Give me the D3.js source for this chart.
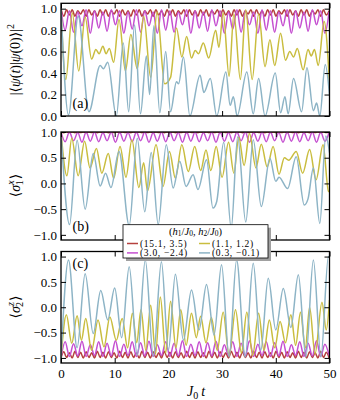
<!DOCTYPE html>
<html>
<head>
<meta charset="utf-8">
<script src="https://cdn.jsdelivr.net/npm/d3@7"></script>
<style>
  body { margin: 0; background: #fff; }
  svg { display: block; }
  text { font-family: "Liberation Serif", "DejaVu Serif", serif; fill: #000; }
</style>
</head>
<body>
<svg id="chart"></svg>
<script>
// values
const xTicks = [0, 10, 20, 30, 40, 50];
const yTicksA = [0, 0.2, 0.4, 0.6, 0.8, 1.0];
const yTicksBC = [-1.0, -0.5, 0.0, 0.5, 1.0];
const legendLabels = ['(15.1, 3.5)', '(3.0, \u22122.4)', '(1.1, 1.2)', '(0.3, \u22120.1)'];

// the two fast curves are sampled at a fixed time step (one value per half period)
const redStep = 0.52;
const magentaStep = 0.78;

const redA = [
  1.0, 0.93, 0.99, 0.94, 0.99, 0.93, 0.98, 0.95, 0.99, 0.93,
  0.99, 0.94, 0.98, 0.93, 0.99, 0.94, 0.99, 0.93, 0.98, 0.95,
  0.99, 0.93, 0.99, 0.94, 0.98, 0.93, 0.99, 0.94, 0.99, 0.93,
  0.98, 0.95, 0.99, 0.93, 0.99, 0.94, 0.98, 0.93, 0.99, 0.94,
  0.99, 0.93, 0.98, 0.95, 0.99, 0.93, 0.99, 0.94, 0.98, 0.93,
  0.99, 0.94, 0.99, 0.93, 0.98, 0.95, 0.99, 0.93, 0.99, 0.94,
  0.98, 0.93, 0.99, 0.94, 0.99, 0.93, 0.98, 0.95, 0.99, 0.93,
  0.99, 0.94, 0.98, 0.93, 0.99, 0.94, 0.99, 0.93, 0.98, 0.95,
  0.99, 0.93, 0.99, 0.94, 0.98, 0.93, 0.99, 0.94, 0.99, 0.93,
  0.98, 0.95, 0.99, 0.93, 0.99, 0.94, 0.98
];
const magentaA = [
  1.0, 0.80, 0.98, 0.78, 0.97, 0.84, 0.99, 0.77, 0.98, 0.82,
  0.97, 0.79, 0.99, 0.85, 0.98, 0.77, 0.97, 0.81, 0.99, 0.78,
  0.98, 0.84, 0.97, 0.77, 0.99, 0.80, 0.98, 0.78, 0.97, 0.85,
  0.99, 0.77, 0.98, 0.82, 0.97, 0.79, 0.99, 0.84, 0.98, 0.77,
  0.97, 0.81, 0.99, 0.78, 0.98, 0.85, 0.97, 0.77, 0.99, 0.80,
  0.98, 0.78, 0.97, 0.84, 0.99, 0.77, 0.98, 0.82, 0.97, 0.79,
  0.99, 0.85, 0.98, 0.77, 0.97
];
const yellowA = [
  [0, 1.0], [0.9, 0.34], [2.1, 0.96], [3.3, 0.42], [4.5, 0.92], [5.7, 0.53],
  [6.5, 0.62], [7.1, 0.58], [7.8, 0.65], [8.4, 0.58], [9.0, 0.63], [9.8, 0.5],
  [10.8, 0.9], [12.0, 0.42], [13.0, 0.76], [14.2, 0.44], [15.4, 0.93], [16.7, 0.36],
  [17.9, 0.97], [19.3, 0.3], [20.4, 0.36], [21.5, 0.82], [22.5, 0.55], [23.4, 0.74],
  [24.3, 0.54], [25.0, 0.61], [25.6, 0.58], [26.5, 0.68], [27.5, 0.54], [28.8, 0.8],
  [29.4, 0.64], [30.2, 0.96], [31.3, 0.37], [32.2, 0.95], [33.4, 0.34], [34.4, 0.99],
  [35.6, 0.34], [36.8, 0.95], [38.0, 0.46], [38.9, 0.71], [39.8, 0.47], [40.9, 0.77],
  [41.8, 0.52], [42.6, 0.6], [43.3, 0.55], [44.0, 0.63], [45.1, 0.43], [46.0, 0.62],
  [46.6, 0.56], [47.2, 0.62], [47.9, 0.47], [49.0, 0.88], [50, 0.3]
];
const blueA = [
  [0, 1.0], [1.4, 0.01], [3.2, 0.93], [5.2, 0.04], [7.3, 0.47], [7.9, 0.44],
  [8.7, 0.5], [10.3, 0.0], [11.6, 0.68], [12.6, 0.04], [13.7, 0.85], [14.8, 0.02],
  [15.9, 0.56], [16.5, 0.2], [17.3, 0.84], [18.4, 0.03], [19.5, 0.6], [20.4, 0.04],
  [21.5, 0.32], [21.9, 0.3], [22.8, 0.55], [24.0, 0.0], [25.9, 0.38], [26.6, 0.22],
  [27.8, 0.35], [29.0, 0.0], [30.7, 0.41], [31.5, 0.1], [32.1, 0.18], [32.8, 0.0],
  [34.6, 0.41], [35.8, 0.02], [36.8, 0.35], [38.0, 0.0], [39.9, 0.4], [40.9, 0.03],
  [41.7, 0.18], [42.3, 0.02], [43.3, 0.35], [44.8, 0.04], [45.8, 0.45], [47.0, 0.05],
  [47.6, 0.12], [48.2, 0.0], [49.2, 0.48], [50, 0.2]
];

const redB = [
  1.0, 0.986, 1.0, 0.988, 1.0, 0.986, 1.0, 0.988, 1.0, 0.986,
  1.0, 0.988, 1.0, 0.986, 1.0, 0.988, 1.0, 0.986, 1.0, 0.988,
  1.0, 0.986, 1.0, 0.988, 1.0, 0.986, 1.0, 0.988, 1.0, 0.986,
  1.0, 0.988, 1.0, 0.986, 1.0, 0.988, 1.0, 0.986, 1.0, 0.988,
  1.0, 0.986, 1.0, 0.988, 1.0, 0.986, 1.0, 0.988, 1.0, 0.986,
  1.0, 0.988, 1.0, 0.986, 1.0, 0.988, 1.0, 0.986, 1.0, 0.988,
  1.0, 0.986, 1.0, 0.988, 1.0, 0.986, 1.0, 0.988, 1.0, 0.986,
  1.0, 0.988, 1.0, 0.986, 1.0, 0.988, 1.0, 0.986, 1.0, 0.988,
  1.0, 0.986, 1.0, 0.988, 1.0, 0.986, 1.0, 0.988, 1.0, 0.986,
  1.0, 0.988, 1.0, 0.986, 1.0, 0.988, 1.0
];
const magentaB = [
  1.0, 0.81, 1.0, 0.83, 0.99, 0.8, 1.0, 0.82, 1.0, 0.81,
  0.99, 0.83, 1.0, 0.8, 1.0, 0.82, 0.99, 0.81, 1.0, 0.83,
  1.0, 0.8, 0.99, 0.82, 1.0, 0.81, 1.0, 0.83, 0.99, 0.8,
  1.0, 0.82, 1.0, 0.81, 0.99, 0.83, 1.0, 0.8, 1.0, 0.82,
  0.99, 0.81, 1.0, 0.83, 1.0, 0.8, 0.99, 0.82, 1.0, 0.81,
  1.0, 0.83, 0.99, 0.8, 1.0, 0.82, 1.0, 0.81, 0.99, 0.83,
  1.0, 0.8, 1.0, 0.82, 0.99
];
const yellowB = [
  [0, 1.0], [1.1, 0.15], [2.0, 0.88], [3.2, 0.15], [4.4, 0.82], [5.4, 0.3],
  [6.6, 0.68], [7.6, 0.2], [8.8, 0.58], [9.8, 0.1], [11.0, 0.72], [12.1, 0.12],
  [13.2, 0.85], [14.5, -0.08], [15.4, 0.4], [16.1, -0.15], [17.7, 0.75], [19.0, -0.06],
  [20.2, 0.62], [21.3, 0.1], [22.5, 0.75], [23.7, 0.23], [24.9, 0.72], [26.0, 0.25],
  [27.0, 0.65], [27.9, 0.25], [28.9, 0.72], [30.0, 0.12], [31.2, 0.8], [32.2, 0.2],
  [33.1, 0.9], [34.1, 0.35], [35.1, 0.97], [36.3, 0.3], [37.3, 0.76], [38.4, 0.32],
  [39.5, 0.72], [40.6, 0.18], [41.6, 0.5], [42.4, 0.45], [43.8, 0.62], [45.0, 0.2],
  [46.3, 0.66], [47.5, 0.07], [48.8, 0.75], [49.8, -0.15], [50, -0.16]
];
const blueB = [
  [0, 1.0], [1.6, -0.8], [3.0, 0.84], [4.5, -0.5], [6.0, 0.58], [7.3, -0.05],
  [8.3, 0.2], [9.3, -0.08], [10.8, 0.62], [12.7, -0.82], [14.2, 0.88], [15.6, -0.55],
  [16.8, 0.6], [18.1, -0.8], [19.6, 0.75], [20.9, -0.09], [22.1, 0.43], [23.3, -0.06],
  [24.6, 0.17], [25.5, -0.12], [27.1, 0.46], [28.3, -0.48], [29.0, -0.35], [30.3, 0.8],
  [31.7, -0.87], [32.9, 0.91], [34.4, -0.75], [35.8, 0.85], [37.3, -0.45], [38.9, 0.49],
  [40.0, 0.04], [40.6, 0.12], [42.2, -0.1], [43.8, 0.52], [45.3, -0.42], [46.0, -0.3],
  [47.0, 0.3], [48.2, -0.78], [49.3, 0.92], [50, 0.6]
];

const redC = [
  -1.0, -0.88, -0.99, -0.9, -1.0, -0.87, -0.99, -0.89, -1.0, -0.88,
  -0.99, -0.9, -1.0, -0.87, -0.99, -0.89, -1.0, -0.88, -0.99, -0.9,
  -1.0, -0.87, -0.99, -0.89, -1.0, -0.88, -0.99, -0.9, -1.0, -0.87,
  -0.99, -0.89, -1.0, -0.88, -0.99, -0.9, -1.0, -0.87, -0.99, -0.89,
  -1.0, -0.88, -0.99, -0.9, -1.0, -0.87, -0.99, -0.89, -1.0, -0.88,
  -0.99, -0.9, -1.0, -0.87, -0.99, -0.89, -1.0, -0.88, -0.99, -0.9,
  -1.0, -0.87, -0.99, -0.89, -1.0, -0.88, -0.99, -0.9, -1.0, -0.87,
  -0.99, -0.89, -1.0, -0.88, -0.99, -0.9, -1.0, -0.87, -0.99, -0.89,
  -1.0, -0.88, -0.99, -0.9, -1.0, -0.87, -0.99, -0.89, -1.0, -0.88,
  -0.99, -0.9, -1.0, -0.87, -0.99, -0.89, -1.0
];
const magentaC = [
  -1.0, -0.68, -0.97, -0.72, -0.96, -0.67, -0.97, -0.74, -0.95, -0.68,
  -0.97, -0.71, -0.96, -0.66, -0.97, -0.73, -0.95, -0.68, -0.97, -0.7,
  -0.96, -0.67, -0.97, -0.74, -0.95, -0.68, -0.97, -0.71, -0.96, -0.66,
  -0.97, -0.73, -0.95, -0.68, -0.97, -0.7, -0.96, -0.67, -0.97, -0.74,
  -0.95, -0.68, -0.97, -0.71, -0.96, -0.66, -0.97, -0.73, -0.95, -0.68,
  -0.97, -0.7, -0.96, -0.67, -0.97, -0.74, -0.95, -0.68, -0.97, -0.71,
  -0.96, -0.66, -0.97, -0.73, -0.95
];
const yellowC = [
  [0, -1.0], [1.0, -0.15], [2.0, -0.71], [3.0, -0.17], [3.8, -0.65], [4.6, -0.22],
  [5.7, -0.85], [6.9, -0.25], [8.0, -0.78], [9.1, -0.19], [10.3, -0.65], [11.4, -0.22],
  [12.4, -0.8], [13.3, -0.12], [14.1, -0.7], [14.9, -0.05], [15.8, -0.85], [16.7, 0.04],
  [17.6, -0.92], [18.5, 0.2], [19.5, -0.9], [20.4, 0.12], [21.4, -0.8], [22.3, -0.05],
  [23.3, -0.75], [24.3, -0.12], [25.2, -0.6], [26.0, -0.18], [27.0, -0.7], [28.0, -0.2],
  [29.1, -0.85], [30.2, -0.1], [31.3, -0.95], [32.5, -0.05], [33.6, -0.9], [34.6, -0.1],
  [35.7, -0.95], [36.8, -0.12], [37.8, -0.85], [38.8, -0.25], [39.8, -0.8], [40.8, -0.28],
  [41.8, -0.7], [42.8, -0.15], [43.7, -0.75], [44.6, -0.1], [45.5, -0.8], [46.3, 0.0],
  [47.3, -0.92], [48.6, 0.1], [49.4, -0.45], [50, 0.14]
];
const blueC = [
  [0, -1.0], [1.4, 0.93], [3.0, -0.8], [4.5, 0.66], [6.0, -0.52], [7.4, 0.33],
  [8.7, -0.25], [10.0, 0.38], [11.3, -0.6], [12.7, 0.8], [14.2, -0.95], [15.7, 0.93],
  [17.2, -0.97], [18.7, 0.9], [20.0, -0.85], [21.3, 0.65], [22.8, -0.65], [24.3, 0.34],
  [25.7, -0.45], [27.1, 0.45], [28.5, -0.55], [29.9, 0.84], [31.3, -0.98], [32.7, 0.93],
  [34.3, -0.98], [35.8, 0.87], [37.2, -0.85], [38.6, 0.57], [40.0, -0.45], [41.4, 0.37],
  [42.8, -0.4], [44.2, 0.64], [45.6, -0.98], [47.0, 0.93], [48.4, -0.98], [49.8, 1.0],
  [50, 0.98]
];

const colors = {red: '#b5413e', magenta: '#c54fd0', yellow: '#c9bd3f', blue: '#8db4c6'};

function stepPoints(values, step) {
  return values.map((v, i) => [i * step, v]);
}

const svg = d3.select('#chart').attr('width', 340).attr('height', 400);

class TracePanel {
  constructor(svg, top, height, yDomain, yTicks, traces, showXLabels) {
    this.left = 61;
    this.width = 268.5;
    this.top = top;
    this.height = height;
    this.yTicks = yTicks;
    this.traces = traces;
    this.showXLabels = showXLabels;
    this.clipId = 'clip-' + Math.round(top);
    this.g = svg.append('g')
      .attr('transform', `translate(${this.left}, ${this.top})`);
    this.xScale = d3.scaleLinear().domain([0, 50]).range([0, this.width]);
    this.yScale = d3.scaleLinear().domain(yDomain).range([this.height, 0]);
    this.drawTraces();
    this.drawAxes();
  }

  drawTraces() {
    this.g.append('clipPath').attr('id', this.clipId)
      .append('rect')
      .attr('width', this.width)
      .attr('height', this.height);
    const line = d3.line()
      .x(d => this.xScale(d[0]))
      .y(d => this.yScale(d[1]))
      .curve(d3.curveMonotoneX);
    this.g.append('g')
      .attr('clip-path', `url(#${this.clipId})`)
      .selectAll('path')
      .data(this.traces)
      .enter()
      .append('path')
      .attr('d', d => line(d.points))
      .attr('fill', 'none')
      .attr('stroke', d => d.color)
      .attr('stroke-width', 1.5);
  }

  styleAxis(g) {
    g.select('.domain').remove();
    g.selectAll('.tick line').attr('stroke', '#000').attr('stroke-width', 1);
    g.selectAll('.tick text')
      .attr('font-size', 13)
      .attr('font-family', '"Liberation Serif", serif')
      .attr('fill', '#000');
  }

  drawAxes() {
    const fmt = d3.format('.1f');
    this.g.append('g')
      .call(d3.axisLeft(this.yScale).tickValues(this.yTicks).tickSize(-5).tickPadding(4).tickFormat(fmt))
      .call(g => this.styleAxis(g));
    this.g.append('g')
      .attr('transform', `translate(${this.width}, 0)`)
      .call(d3.axisRight(this.yScale).tickValues(this.yTicks).tickSize(-5).tickFormat(''))
      .call(g => this.styleAxis(g));
    this.g.append('g')
      .call(d3.axisTop(this.xScale).tickValues(xTicks).tickSize(-5).tickFormat(''))
      .call(g => this.styleAxis(g));
    this.g.append('g')
      .attr('transform', `translate(0, ${this.height})`)
      .call(d3.axisBottom(this.xScale).tickValues(xTicks).tickSize(-5).tickPadding(6)
        .tickFormat(this.showXLabels ? d3.format('d') : ''))
      .call(g => this.styleAxis(g));
    this.g.append('rect')
      .attr('width', this.width)
      .attr('height', this.height)
      .attr('fill', 'none')
      .attr('stroke', '#000')
      .attr('stroke-width', 1.3);
  }

  addTag(label, y) {
    this.g.append('text')
      .attr('x', 11.5)
      .attr('y', y)
      .attr('font-size', 14)
      .text(label);
  }
}

const panelA = new TracePanel(svg, 3.3, 112.7, [0, 1.05], yTicksA, [
  {points: stepPoints(redA, redStep), color: colors.red},
  {points: stepPoints(magentaA, magentaStep), color: colors.magenta},
  {points: yellowA, color: colors.yellow},
  {points: blueA, color: colors.blue}
], false);
const panelB = new TracePanel(svg, 132, 108, [-1.1, 1.0], yTicksBC, [
  {points: stepPoints(redB, redStep), color: colors.red},
  {points: stepPoints(magentaB, magentaStep), color: colors.magenta},
  {points: yellowB, color: colors.yellow},
  {points: blueB, color: colors.blue}
], false);
const panelC = new TracePanel(svg, 251.5, 111.5, [-1.1, 1.1], yTicksBC, [
  {points: stepPoints(redC, redStep), color: colors.red},
  {points: stepPoints(magentaC, magentaStep), color: colors.magenta},
  {points: yellowC, color: colors.yellow},
  {points: blueC, color: colors.blue}
], true);

panelA.addTag('(a)', 104.5);
panelB.addTag('(b)', 99);
panelC.addTag('(c)', 16.5);

// rotated y labels
function yLabel(yCenter, build) {
  const t = svg.append('text')
    .attr('transform', `translate(20, ${yCenter}) rotate(-90)`)
    .attr('text-anchor', 'middle')
    .attr('font-size', 14);
  build(t);
}

const bra = '\u27E8', ket = '\u27E9';
yLabel(59.6, t => {
  t.append('tspan').text('|' + bra);
  t.append('tspan').attr('font-style', 'italic').text('\u03C8');
  t.append('tspan').text('(');
  t.append('tspan').attr('font-style', 'italic').text('t');
  t.append('tspan').text(')|');
  t.append('tspan').attr('font-style', 'italic').text('\u03C8');
  t.append('tspan').text('(0)' + ket + '|');
  t.append('tspan').attr('font-size', 10).attr('dy', -6).text('2');
});
function sigmaLabel(t, up, down) {
  t.append('tspan').text(bra);
  t.append('tspan').attr('font-style', 'italic').text('\u03C3');
  t.append('tspan').attr('font-style', 'italic').attr('font-size', 10).attr('dy', -6).text(up);
  t.append('tspan').attr('font-size', 10).attr('dx', -5).attr('dy', 9).text(down);
  t.append('tspan').attr('dy', -3).attr('dx', 1).text(ket);
}
yLabel(185.5, t => sigmaLabel(t, 'x', '1'));
yLabel(307, t => sigmaLabel(t, 'z', '2'));

// x label
const xl = svg.append('text')
  .attr('x', 196)
  .attr('y', 396)
  .attr('text-anchor', 'middle')
  .attr('font-size', 14);
xl.append('tspan').attr('font-style', 'italic').text('J');
xl.append('tspan').attr('font-size', 10).attr('dy', 3).text('0');
xl.append('tspan').attr('dy', -3).attr('dx', 3).attr('font-style', 'italic').text('t');

// legend
const legend = svg.append('g').attr('transform', 'translate(123, 224.7)');
legend.append('rect')
  .attr('x', 3).attr('y', 3)
  .attr('width', 145).attr('height', 33.3)
  .attr('fill', '#a0a0a0');
legend.append('rect')
  .attr('width', 145).attr('height', 33.3)
  .attr('fill', '#fff')
  .attr('stroke', '#000')
  .attr('stroke-width', 0.8);
const title = legend.append('text')
  .attr('x', 72.5).attr('y', 10)
  .attr('text-anchor', 'middle')
  .attr('font-size', 10.5);
[['h', '1'], ['J', '0'], ['h', '2'], ['J', '0']].forEach((p, i) => {
  const pre = i === 0 ? '(' : (i === 2 ? ', ' : '/');
  title.append('tspan').attr('dy', i === 0 ? 0 : -1.5).text(pre);
  title.append('tspan').attr('font-style', 'italic').text(p[0]);
  title.append('tspan').attr('font-size', 7.5).attr('dy', 1.5).text(p[1]);
});
title.append('tspan').attr('dy', -1.5).text(')');

const legendColors = [colors.red, colors.magenta, colors.yellow, colors.blue];
const items = legend.selectAll('.item')
  .data(legendLabels)
  .enter()
  .append('g')
  .attr('transform', (d, i) => `translate(${i < 2 ? 4 : 76}, ${i % 2 === 0 ? 18.8 : 28.2})`);
items.append('line')
  .attr('x1', 0).attr('x2', 11)
  .attr('stroke', (d, i) => legendColors[i])
  .attr('stroke-width', 1.5);
items.append('text')
  .attr('x', 13).attr('y', 3.2)
  .attr('font-size', 9.5)
  .attr('letter-spacing', 0.7)
  .text(d => d);
</script>
</body>
</html>
